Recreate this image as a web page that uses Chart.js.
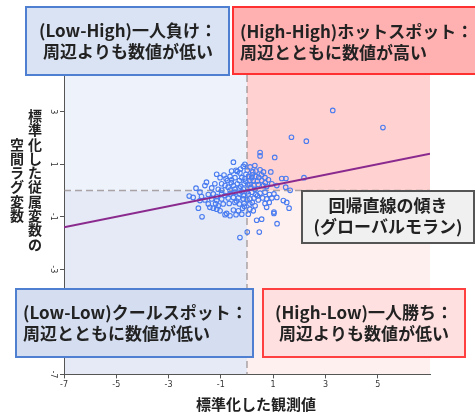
<!DOCTYPE html>
<html>
<head>
<meta charset="utf-8">
<script src="https://cdn.jsdelivr.net/npm/chart.js@4"></script>
<style>
  html, body { margin: 0; padding: 0; background: #fff; }
</style>
</head>
<body>
<canvas id="grafico" width="475" height="416"></canvas>
<script>
// datos
const observado = [
  -0.52,-0.59,-0.42,-0.37,-0.88,-0.65,-1.03,-1.16,-0.75,-0.59,-0.46,-0.27,-0.14,-0.08,-0.29,-0.20,-0.97,-1.23,-1.55,-1.61,
  -1.95,-1.35,-1.10,-0.84,-0.72,-0.52,-0.37,-0.24,-0.11,-0.14,-0.46,-0.65,-0.97,-0.04,
  0.50,0.50,1.06,0.22,0.34,0.50,0.63,0.34,0.18,0.06,0.11,0.24,0.40,0.56,0.69,0.82,0.91,0.11,0.27,0.43,
  0.63,0.75,0.95,1.14,1.33,1.49,2.18,1.48,1.65,1.70,2.27,3.28,5.20,0.01,
  -2.21,-1.80,-1.74,-1.48,-1.29,-1.16,-0.97,-0.84,-0.65,-0.46,-0.27,-0.14,-1.80,-1.61,-1.35,-1.16,-0.97,-0.72,-0.52,-0.33,
  -0.14,-1.86,-1.48,-1.29,-1.10,-0.91,-0.68,-0.46,-0.29,-0.11,-1.72,-1.03,-0.84,-0.65,-0.52,-0.33,-0.17,-0.78,-0.27,-0.20,
  -0.42,-1.16,-1.42,-2.06,
  0.05,0.18,0.34,0.50,0.69,0.86,1.03,0.11,0.27,0.43,0.60,0.75,0.95,1.14,1.39,1.52,1.61,1.03,1.03,0.37,
  0.56,1.15,0.01,0.47,0.11,0.31,0.69,0.11,0.75,0.24,0.05,
  -0.05,0.03,0.15,-0.08,0.20,0.45,0.55,-0.30,0.00,-0.20,0.30,0.40,-0.40,0.20,-0.60,-0.80,0.12,0.30,-0.25,0.70,
  -1.20,0.85,0.00,-0.10
];
const rezago = [
  1.08,0.74,0.77,0.73,0.59,0.54,0.49,0.62,0.38,0.41,0.49,0.67,0.92,1.00,0.38,0.49,0.26,0.26,0.32,0.19,
  0.09,0.10,0.05,0.19,0.13,0.19,0.26,0.15,0.26,0.06,0.06,0.02,0.01,0.62,
  1.45,1.32,1.26,0.71,0.74,0.79,0.71,0.54,0.49,0.54,0.38,0.38,0.36,0.38,0.49,0.41,0.71,0.23,0.19,0.23,
  0.19,0.15,0.26,0.19,0.46,0.46,0.49,0.13,0.01,2.03,1.88,3.05,2.40,0.77,
  -0.21,-0.06,-0.23,-0.15,-0.13,-0.23,-0.10,-0.19,-0.13,-0.06,-0.13,-0.19,-0.38,-0.36,-0.32,-0.38,-0.32,-0.28,-0.26,-0.28,
  -0.32,-0.67,-0.51,-0.67,-0.58,-0.51,-0.49,-0.45,-0.51,-0.49,-1.00,-0.77,-0.92,-0.96,-0.74,-0.77,-0.67,-0.87,-1.79,-0.90,
  -0.92,-0.71,-0.64,-0.26,
  -0.13,-0.06,-0.15,-0.10,-0.06,-0.15,-0.13,-0.32,-0.28,-0.36,-0.28,-0.32,-0.28,-0.26,-0.38,-0.45,-0.67,-0.82,-0.87,-1.13,
  -1.09,-1.26,-1.58,-1.58,-0.51,-0.58,-0.49,-0.71,-0.64,-0.77,-0.90,
  0.35,0.22,0.12,0.45,0.60,0.50,0.60,0.10,-0.05,-0.05,0.05,-0.20,-0.40,-0.45,0.30,0.45,0.90,0.95,0.82,0.30,
  -0.50,-0.45,-0.35,-0.60
];
const xTicks = [-7, -5, -3, -1, 1, 3, 5];
const yTicks = [-7, -5, -3, -1, 1, 3];
const pendiente = 0.2;   // moran global
const intercepto = 0;
const tituloX = "標準化した観測値";
const tituloY = ["標準化した従属変数の", "空間ラグ変数"];
const notas = [
  ["(Low-High)一人負け：", "周辺よりも数値が低い"],
  ["(High-High)ホットスポット：", "周辺とともに数値が高い"],
  ["(Low-Low)クールスポット：", "周辺とともに数値が低い"],
  ["(High-Low)一人勝ち：", "周辺よりも数値が低い"],
  ["回帰直線の傾き", "(グローバルモラン)"]
];

const fuente = '"Noto Sans CJK JP", "Noto Sans", sans-serif';

// cajas de texto (posicion en pixeles)
const cajas = [
  {x: 26, y: 7, w: 203, h: 68, fondo: '#dae3f3', borde: '#4f7fd0', alin: 'center', tx: 128, ty: [31, 52]},
  {x: 233, y: 7, w: 250, h: 67, fondo: '#ffb0b0', borde: '#ff3030', alin: 'left', tx: 240, ty: [32, 53]},
  {x: 16, y: 289, w: 237, h: 68, fondo: '#d5def1', borde: '#4f7fd0', alin: 'left', tx: 23, ty: [313, 334]},
  {x: 263, y: 289, w: 202, h: 68, fondo: '#ffe0e0', borde: '#ff4040', alin: 'center', tx: 364, ty: [313, 334]},
  {x: 302, y: 191, w: 172, h: 52, fondo: '#f0f0f0', borde: '#555555', alin: 'center', tx: 388, ty: [206, 227]}
];

const fondo = {
  id: 'fondo',
  beforeDraw(chart) {
    const {ctx, chartArea: a, scales: {x, y}} = chart;
    const x0 = x.getPixelForValue(0), y0 = y.getPixelForValue(0);
    ctx.save();
    ctx.fillStyle = '#eef3fb'; ctx.fillRect(a.left, a.top, x0 - a.left, y0 - a.top);
    ctx.fillStyle = '#ffd1d1'; ctx.fillRect(x0, a.top, a.right - x0, y0 - a.top);
    ctx.fillStyle = '#e5eaf6'; ctx.fillRect(a.left, y0, x0 - a.left, a.bottom - y0);
    ctx.fillStyle = '#fff0f0'; ctx.fillRect(x0, y0, a.right - x0, a.bottom - y0);
    ctx.restore();
  },
  beforeDatasetsDraw(chart) {
    const {ctx, chartArea: a, scales: {x, y}} = chart;
    const x0 = x.getPixelForValue(0), y0 = y.getPixelForValue(0);
    ctx.save();
    ctx.strokeStyle = 'rgba(140,130,130,0.7)';
    ctx.lineWidth = 1.5;
    ctx.setLineDash([7, 4]);
    ctx.beginPath();
    ctx.moveTo(x0, a.top); ctx.lineTo(x0, a.bottom);
    ctx.moveTo(a.left, y0); ctx.lineTo(a.right, y0);
    ctx.stroke();
    ctx.restore();
  },
  afterDraw(chart) {
    const {ctx, scales: {y}} = chart;
    ctx.save();
    // ticks del eje y (girados)
    ctx.fillStyle = '#333';
    ctx.font = '8px "DejaVu Sans", sans-serif';
    ctx.textAlign = 'center';
    ctx.textBaseline = 'middle';
    yTicks.forEach(v => {
      ctx.save();
      ctx.translate(53, y.getPixelForValue(v));
      ctx.rotate(Math.PI / 2);
      ctx.fillText(String(v), 0, 0);
      ctx.restore();
    });
    // titulo eje y en vertical
    ctx.fillStyle = '#222';
    ctx.font = 'bold 14px ' + fuente;
    const paso = 14.3, cy = 180;
    [35, 17].forEach((cx, i) => {
      const chars = Array.from(tituloY[i]);
      const y1 = cy - chars.length * paso / 2 + paso / 2;
      chars.forEach((c, j) => ctx.fillText(c, cx, y1 + j * paso));
    });
    // titulo eje x
    ctx.font = 'bold 15px ' + fuente;
    ctx.fillText(tituloX, 256, 404);
    // cajas
    cajas.forEach((c, i) => {
      ctx.fillStyle = c.fondo;
      ctx.fillRect(c.x, c.y, c.w, c.h);
      ctx.strokeStyle = c.borde;
      ctx.lineWidth = 2;
      ctx.strokeRect(c.x, c.y, c.w, c.h);
      ctx.fillStyle = '#222';
      ctx.font = 'bold 17px ' + fuente;
      ctx.textAlign = c.alin;
      notas[i].forEach((t, k) => ctx.fillText(t, c.tx, c.ty[k]));
    });
    ctx.restore();
  }
};

const puntos = observado.map((v, i) => ({x: v, y: rezago[i]}));

let miCanvas = document.getElementById("grafico").getContext("2d");

var chart = new Chart(miCanvas, {
  type: "scatter",
  data: {
    datasets: [
      {
        label: "回帰直線",
        data: [
          {x: -7, y: intercepto + pendiente * -7},
          {x: 7, y: intercepto + pendiente * 7}
        ],
        showLine: true,
        borderColor: "#8b2a8e",
        borderWidth: 2,
        pointRadius: 0,
        order: 0
      },
      {
        label: "観測値",
        data: puntos,
        pointRadius: 2.3,
        borderWidth: 1.1,
        borderColor: "#4a7cf0",
        backgroundColor: "rgba(255,255,255,0)",
        order: 1
      }
    ]
  },
  options: {
    responsive: false,
    animation: false,
    layout: { padding: { left: 60, right: 45, top: 75, bottom: 24 } },
    plugins: { legend: { display: false }, tooltip: { enabled: false } },
    scales: {
      x: {
        type: "linear",
        min: -7, max: 7,
        afterBuildTicks: axis => { axis.ticks = xTicks.map(v => ({value: v})); },
        grid: { drawOnChartArea: false, tickLength: 4, color: "#555" },
        border: { color: "#555" },
        ticks: { color: "#333", font: { size: 8, family: "DejaVu Sans" }, padding: 2, maxRotation: 0 }
      },
      y: {
        type: "linear",
        min: -7, max: 4.4,
        afterBuildTicks: axis => { axis.ticks = yTicks.map(v => ({value: v})); },
        grid: { drawOnChartArea: false, tickLength: 4, color: "#555" },
        border: { color: "#555" },
        ticks: { display: false }
      }
    }
  },
  plugins: [fondo]
});
</script>
</body>
</html>
